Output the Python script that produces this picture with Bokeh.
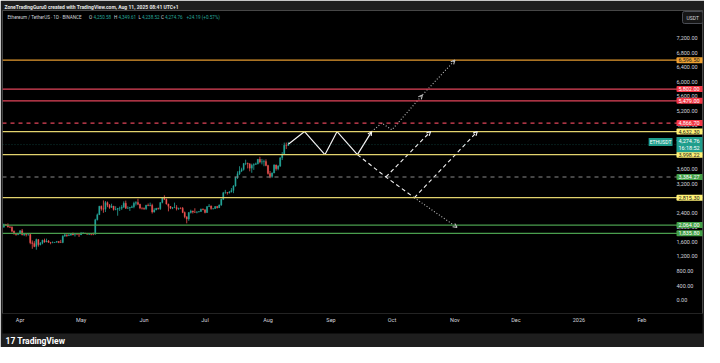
import pandas as pd
from bokeh.plotting import figure
from bokeh.models import (Range1d, Span, Label, FixedTicker, NumeralTickFormatter,
                          Arrow, OpenHead, ColumnDataSource, Title)
from bokeh.embed import file_html
from bokeh.resources import INLINE

# ---------------- data ----------------
start_date = "2025-03-24"
first_open = 2004.0
closes = [2080, 2068, 2010, 2003, 1896, 1826, 1806, 1822,
          1904, 1795, 1816, 1806, 1807, 1580, 1554, 1473, 1668, 1522, 1566, 1646, 1596, 1623,
          1587, 1577, 1585, 1589, 1614, 1586, 1581, 1757, 1795, 1771, 1786, 1820, 1792, 1800, 1798, 1793,
          1838, 1842, 1833, 1810, 1816, 1812, 1808, 2207, 2345, 2583, 2514, 2497, 2680, 2609, 2547,
          2588, 2489, 2495, 2522, 2525, 2552, 2664, 2526, 2530, 2549, 2565, 2660, 2682, 2632, 2532, 2528,
          2509, 2607, 2593, 2606, 2420, 2479, 2526, 2509, 2682, 2813, 2772, 2644, 2577, 2524, 2543,
          2547, 2510, 2526, 2523, 2410, 2292, 2228, 2408, 2450, 2419, 2415, 2424, 2435, 2500, 2486,
          2405, 2570, 2590, 2515, 2516, 2571, 2541, 2615, 2770, 2952, 2955, 2944, 2971, 3012, 3137,
          3370, 3476, 3546, 3592, 3756, 3761, 3746, 3627, 3706, 3731, 3746, 3870, 3796, 3800, 3810, 3697,
          3482, 3396, 3497, 3716, 3614, 3684, 3910, 4010, 4257, 4250.58, 4274.76]
highs = [2104, 2096, 2110, 2040, 2030, 1912, 1843, 1850,
         1925, 1955, 1830, 1837, 1820, 1817, 1640, 1620, 1690, 1672, 1595, 1660, 1690, 1690,
         1650, 1600, 1614, 1596, 1623, 1621, 1657, 1783, 1830, 1801, 1824, 1830, 1858, 1825, 1840, 1812,
         1873, 1869, 1850, 1845, 1836, 1826, 1855, 2235, 2380, 2590, 2600, 2740, 2725, 2710, 2640,
         2650, 2590, 2580, 2530, 2570, 2610, 2715, 2735, 2580, 2560, 2600, 2705, 2720, 2785, 2650, 2545,
         2545, 2620, 2655, 2680, 2650, 2525, 2535, 2540, 2690, 2830, 2880, 2790, 2650, 2580, 2560,
         2680, 2610, 2540, 2550, 2560, 2435, 2300, 2420, 2485, 2460, 2525, 2445, 2440, 2515, 2520,
         2495, 2580, 2640, 2600, 2530, 2585, 2590, 2630, 2790, 2975, 3030, 2970, 3000, 3080, 3160,
         3390, 3540, 3680, 3640, 3770, 3860, 3780, 3760, 3750, 3760, 3780, 3880, 3940, 3880, 3860, 3870,
         3720, 3550, 3510, 3735, 3725, 3710, 3925, 4070, 4330, 4330, 4349.61]
lows = [1995, 2036, 1996, 1982, 1865, 1800, 1770, 1785,
        1810, 1780, 1760, 1748, 1770, 1535, 1411, 1454, 1385, 1470, 1505, 1535, 1576, 1590,
        1580, 1535, 1565, 1573, 1584, 1566, 1570, 1565, 1745, 1740, 1760, 1775, 1785, 1747, 1790, 1735,
        1790, 1825, 1820, 1800, 1790, 1782, 1785, 1805, 2190, 2340, 2460, 2400, 2420, 2555, 2510,
        2540, 2460, 2470, 2320, 2450, 2480, 2540, 2505, 2510, 2450, 2530, 2525, 2600, 2610, 2500, 2490,
        2480, 2480, 2585, 2580, 2380, 2405, 2470, 2490, 2480, 2660, 2750, 2625, 2440, 2500, 2500,
        2530, 2465, 2480, 2500, 2390, 2250, 2110, 2180, 2380, 2380, 2400, 2385, 2410, 2425, 2470,
        2385, 2395, 2560, 2485, 2490, 2505, 2520, 2530, 2590, 2750, 2925, 2900, 2930, 2960, 2940,
        3120, 3330, 3440, 3520, 3560, 3710, 3620, 3540, 3500, 3580, 3720, 3730, 3760, 3730, 3680, 3680,
        3450, 3350, 3360, 3485, 3560, 3570, 3660, 3850, 3995, 4155, 4238.52]

level_prices = [6596.50, 5802.00, 5479.00, 4866.70, 4632.30, 3998.22, 3384.27, 2815.30, 2064.00, 1835.80]
level_labels = ["6,596.50", "5,802.00", "5,479.00", "4,866.70", "4,632.30", "3,998.22",
                "3,384.27", "2,815.30", "2,064.00", "1,835.80"]

last_price = 4274.76
last_price_label = "4,274.76"
countdown = "16:18:52"

y_ticks = [0, 400, 800, 1200, 1600, 2000, 2400, 2800, 3200, 3600, 4000, 4400, 4800,
           5200, 5600, 6000, 6400, 6800, 7200]
month_ticks = ["2025-04-01", "2025-05-01", "2025-06-01", "2025-07-01", "2025-08-01", "2025-09-01",
               "2025-10-01", "2025-11-01", "2025-12-01", "2026-01-01", "2026-02-01"]
month_labels = ["Apr", "May", "Jun", "Jul", "Aug", "Sep", "Oct", "Nov", "Dec", "2026", "Feb"]

# projections
zig_dates = ["2025-08-11", "2025-08-19", "2025-08-29", "2025-09-04", "2025-09-14", "2025-09-21"]
zig_prices = [4285, 4632.30, 3998.22, 4632.30, 3998.22, 4632.30]
bull_dates = ["2025-09-21", "2025-09-26", "2025-10-01", "2025-10-16", "2025-11-01"]
bull_prices = [4632.30, 4866.70, 4680, 5640, 6596.50]
bear_dates = ["2025-09-14", "2025-09-28", "2025-10-12"]
bear_prices = [3998.22, 3384.27, 2815.30]
rebound1_dates = ["2025-09-28", "2025-10-20"]
rebound1_prices = [3384.27, 4632.30]
rebound2_dates = ["2025-10-12", "2025-11-12"]
rebound2_prices = [2815.30, 4632.30]
drop_dates = ["2025-10-12", "2025-11-02"]
drop_prices = [2815.30, 2000]

x_start, x_end = "2025-03-23 08:00", "2026-03-02 20:00"
y_start, y_end = -368, 7961

header_text = "ZoneTradingGuru0 created with TradingView.com, Aug 11, 2025 08:41 UTC+1"
legend_parts = ["Ethereum / TetherUS · 1D · BINANCE", "O", "4,250.58", "H", "4,349.61",
                "L", "4,238.52", "C", "4,274.76", "+24.19 (+0.57%)"]

# ---------------- styles ----------------
BG = "#000000"
BORDER = "#1e1e1e"
TXT = "#d1d4dc"
UP = "#26a69a"
DOWN = "#ef5350"
FONT = "Roboto"
level_line_colors = ["#e39a2f", "#e2455a", "#e2455a", "#e2455a", "#e3d36e", "#e3d36e",
                     "#8a8a8a", "#e3d36e", "#4a9e4e", "#4a9e4e"]
level_dashes = ["solid", "solid", "solid", "4 4", "solid", "solid", "4 4", "solid", "solid", "solid"]
tag_bg = ["#f0a232", "#f23645", "#f23645", "#f23645", "#fff176", "#fff176",
          "#43a047", "#fff176", "#43a047", "#43a047"]
tag_fg = ["#1a1a1a", "#ffffff", "#ffffff", "#ffffff", "#1a1a1a", "#1a1a1a",
          "#ffffff", "#1a1a1a", "#ffffff", "#ffffff"]
legend_x = [5, 86.5, 91, 111.5, 116, 136, 139.5, 158.5, 162.5, 184]
legend_col = [TXT, TXT, UP, TXT, UP, TXT, UP, TXT, UP, UP]

W, H = 704, 347
MB_L, MB_R, MB_T, MB_B = 2, 2, 10, 34
FW = W - MB_L - MB_R
FH = H - MB_T - MB_B

def ms(d):
    return pd.Timestamp(d).value / 1e6

p = figure(width=W, height=H, x_axis_type="datetime", y_axis_location="right",
           output_backend="svg", toolbar_location=None,
           x_range=Range1d(pd.Timestamp(x_start), pd.Timestamp(x_end)),
           y_range=Range1d(y_start, y_end),
           min_border_left=MB_L, min_border_right=MB_R, min_border_top=MB_T, min_border_bottom=MB_B,
           background_fill_color=BG, border_fill_color=BORDER, outline_line_color=None)
p.grid.visible = False

# header title (gray strip)
p.title.text = header_text
p.title.align = "left"
p.title.offset = 2
p.title.standoff = 1
p.title.text_font = FONT
p.title.text_font_size = "5px"
p.title.text_font_style = "bold"
p.title.text_color = "#e6e6e6"

# axes
p.yaxis.ticker = FixedTicker(ticks=y_ticks)
p.yaxis.formatter = NumeralTickFormatter(format="0,0.00")
p.xaxis.ticker = FixedTicker(ticks=[ms(d) for d in month_ticks])
p.xaxis.major_label_overrides = {ms(d): lab for d, lab in zip(month_ticks, month_labels)}
for ax in (p.xaxis, p.yaxis):
    ax.axis_line_color = None
    ax.major_tick_line_color = None
    ax.minor_tick_line_color = None
    ax.major_tick_out = 0
    ax.major_tick_in = 0
    ax.minor_tick_out = 0
    ax.minor_tick_in = 0
    ax.major_label_text_color = TXT
    ax.major_label_text_font = FONT
    ax.major_label_text_font_size = "5.5px"
    ax.background_fill_color = BG
p.yaxis.major_label_standoff = -26
p.xaxis.major_label_standoff = 3
p.xaxis.axis_label = " "
p.xaxis.axis_label_text_font_size = "4px"
p.xaxis.axis_label_standoff = 0

# footer title
p.add_layout(Title(text="17 TradingView", align="left", offset=3, standoff=1,
                   text_font=FONT, text_font_size="8.5px", text_font_style="bold",
                   text_color="#ffffff"), "below")

# candles
dates = pd.date_range(start_date, periods=len(closes), freq="D")
opens = [first_open] + closes[:-1]
colors = [UP if c >= o else DOWN for o, c in zip(opens, closes)]
src = ColumnDataSource(dict(x=dates, o=opens, h=highs, l=lows, c=closes, col=colors))
p.segment("x", "h", "x", "l", source=src, color="col", line_width=0.8)
p.vbar(x="x", width=0.62 * 86400000, top="o", bottom="c", source=src,
       fill_color="col", line_color="col", line_width=0.3)

# levels
for price, lc, dash in zip(level_prices, level_line_colors, level_dashes):
    p.add_layout(Span(location=price, dimension="width", line_color=lc,
                      line_width=1.2, line_dash=dash))
p.add_layout(Span(location=last_price, dimension="width", line_color=UP,
                  line_alpha=0.45, line_width=0.8, line_dash="1 2"))

# projection paths
def pd_dates(lst):
    return [pd.Timestamp(d) for d in lst]

p.line(pd_dates(zig_dates), zig_prices, line_color="#f2f2f2", line_width=1.2)
p.line(pd_dates(bull_dates), bull_prices, line_color="#bdbdbd", line_width=1.1, line_dash="1 2")
p.line(pd_dates(bear_dates), bear_prices, line_color="#f2f2f2", line_width=1.1, line_dash="4 3")
p.line(pd_dates(rebound1_dates), rebound1_prices, line_color="#f2f2f2", line_width=1.1, line_dash="4 3")
p.line(pd_dates(rebound2_dates), rebound2_prices, line_color="#f2f2f2", line_width=1.1, line_dash="4 3")
p.line(pd_dates(drop_dates), drop_prices, line_color="#bdbdbd", line_width=1.1, line_dash="1 2")

def head(d0, p0, d1, p1, color):
    p.add_layout(Arrow(end=OpenHead(size=4, line_color=color, line_width=1.1),
                       x_start=ms(d0), y_start=p0, x_end=ms(d1), y_end=p1, line_alpha=0))

head(zig_dates[-2], zig_prices[-2], zig_dates[-1], zig_prices[-1], "#f2f2f2")
head(bull_dates[2], bull_prices[2], bull_dates[3], bull_prices[3], "#bdbdbd")
head(bull_dates[3], bull_prices[3], bull_dates[4], bull_prices[4], "#bdbdbd")
head(rebound1_dates[0], rebound1_prices[0], rebound1_dates[1], rebound1_prices[1], "#f2f2f2")
head(rebound2_dates[0], rebound2_prices[0], rebound2_dates[1], rebound2_prices[1], "#f2f2f2")
head(drop_dates[0], drop_prices[0], drop_dates[1], drop_prices[1], "#bdbdbd")

# price tags over the price scale
TAG_X = 674
for price, lab, bg, fg in zip(level_prices, level_labels, tag_bg, tag_fg):
    p.add_layout(Label(x=TAG_X, y=price, x_units="screen", text=lab, text_font=FONT,
                       text_font_size="5.5px", text_color=fg, text_baseline="middle",
                       background_fill_color=bg, padding=(2, 5, 1, 1), border_radius=1))

p.add_layout(Label(x=TAG_X, y=last_price, x_units="screen",
                   text=last_price_label + "\n" + countdown, text_font=FONT,
                   text_font_size="5.5px", text_color="#ffffff", text_baseline="middle",
                   background_fill_color="#1f9e8c", padding=(2, 5, 1, 1)))
p.add_layout(Label(x=670, y=last_price, x_units="screen", y_offset=2.5, text="ETHUSDT",
                   text_font=FONT, text_font_size="5px", text_color="#ffffff",
                   text_align="right", text_baseline="middle",
                   background_fill_color="#1f9e8c", padding=1))

# USDT box
p.add_layout(Label(x=680, y=FH - 7, x_units="screen", y_units="screen", text="USDT",
                   text_font=FONT, text_font_size="5px", text_color=TXT, text_baseline="middle",
                   background_fill_color="#161616", border_line_color="#4a4d55",
                   padding=(4, 3), border_radius=2))

# symbol legend
for txt, xs, col in zip(legend_parts, legend_x, legend_col):
    p.add_layout(Label(x=xs, y=FH - 6.5, x_units="screen", y_units="screen", text=txt,
                       text_font=FONT, text_font_size="4.6px", text_color=col,
                       text_baseline="middle"))

open("out.html", "w").write(file_html(p, INLINE))
